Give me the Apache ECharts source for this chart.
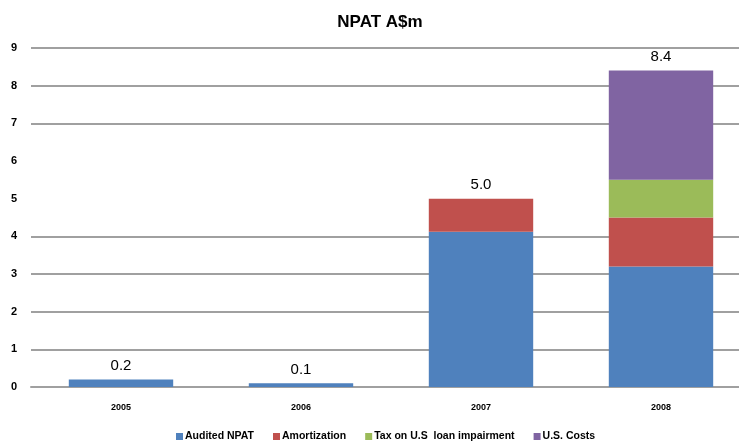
<!DOCTYPE html>
<html>
<head>
<meta charset="utf-8">
<script src="https://cdn.jsdelivr.net/npm/echarts@6/dist/echarts.min.js"></script>
<style>
  html, body { margin: 0; padding: 0; background: #fff; overflow: hidden; }
  /* the plot runs a little past the right edge of the page */
  #chart { width: 751px; height: 445px; }
</style>
</head>
<body>
<div id="chart"></div>
<script>
// NPAT breakdown by year (A$m)
const years = ['2005', '2006', '2007', '2008'];
const auditedNpat = [0.2, 0.1, 4.12, 3.2];
const amortization = [0, 0, 0.88, 1.3];
const taxLoanImpairment = [0, 0, 0, 1.0];
const usCosts = [0, 0, 0, 2.9];
const seriesNames = ['Audited NPAT', 'Amortization', 'Tax on U.S  loan impairment', 'U.S. Costs'];
const yTicks = [0, 1, 2, 3, 4, 5, 6, 7, 8, 9];

const parts = [auditedNpat, amortization, taxLoanImpairment, usCosts];
const totals = years.map((_, i) => parts.reduce((s, arr) => s + arr[i], 0));

const colors = ['#4F81BD', '#C0504D', '#9BBB59', '#8064A2'];
const gridColor = '#A0A0A0';
const font = '"Liberation Sans", Arial, sans-serif';

const chart = echarts.init(document.getElementById('chart'));

const barSeries = parts.map((arr, k) => ({
  name: seriesNames[k],
  type: 'bar',
  stack: 'npat',
  barWidth: '58%',
  data: arr,
  itemStyle: { color: colors[k] },
  emphasis: { disabled: true }
}));

// zero-height bar on top of each stack carrying the total label
barSeries.push({
  name: 'total',
  type: 'bar',
  stack: 'npat',
  barWidth: '58%',
  data: totals.map(() => 0),
  itemStyle: { color: 'transparent' },
  label: {
    show: true,
    position: 'top',
    distance: 6,
    formatter: p => totals[p.dataIndex].toFixed(1),
    color: '#000',
    fontSize: 15,
    fontFamily: font
  },
  silent: true
});

chart.setOption({
  animation: false,
  title: {
    text: 'NPAT A$m',
    left: 375,
    top: 9,
    textAlign: 'center',
    textStyle: { fontSize: 17, fontWeight: 'bold', fontFamily: font, color: '#000' }
  },
  legend: {
    data: seriesNames,
    left: 176,
    top: 431,
    padding: 0,
    itemWidth: 7,
    itemHeight: 7,
    itemGap: 19,
    icon: 'rect',
    textStyle: { fontSize: 10.5, fontWeight: 'bold', fontFamily: font, color: '#000', padding: [0, 0, 0, -3] }
  },
  grid: { left: 31, top: 48, width: 720, height: 339, containLabel: false },
  xAxis: {
    type: 'category',
    data: years,
    axisTick: { show: false },
    axisLine: { lineStyle: { color: gridColor, width: 2 } },
    axisLabel: { fontSize: 9, fontWeight: 'bold', fontFamily: font, color: '#000', margin: 16 }
  },
  yAxis: {
    type: 'value',
    min: 0,
    max: 9,
    interval: 1,
    axisLine: { show: false },
    axisTick: { show: false },
    axisLabel: {
      fontSize: 11,
      fontWeight: 'bold',
      fontFamily: font,
      color: '#000',
      margin: 14,
      formatter: v => yTicks.includes(v) ? String(v) : ''
    },
    splitLine: {
      lineStyle: {
        width: 2,
        color: [gridColor, gridColor, gridColor, gridColor, gridColor,
                'transparent', 'transparent', gridColor, gridColor, gridColor]
      }
    }
  },
  series: barSeries
});
</script>
</body>
</html>
